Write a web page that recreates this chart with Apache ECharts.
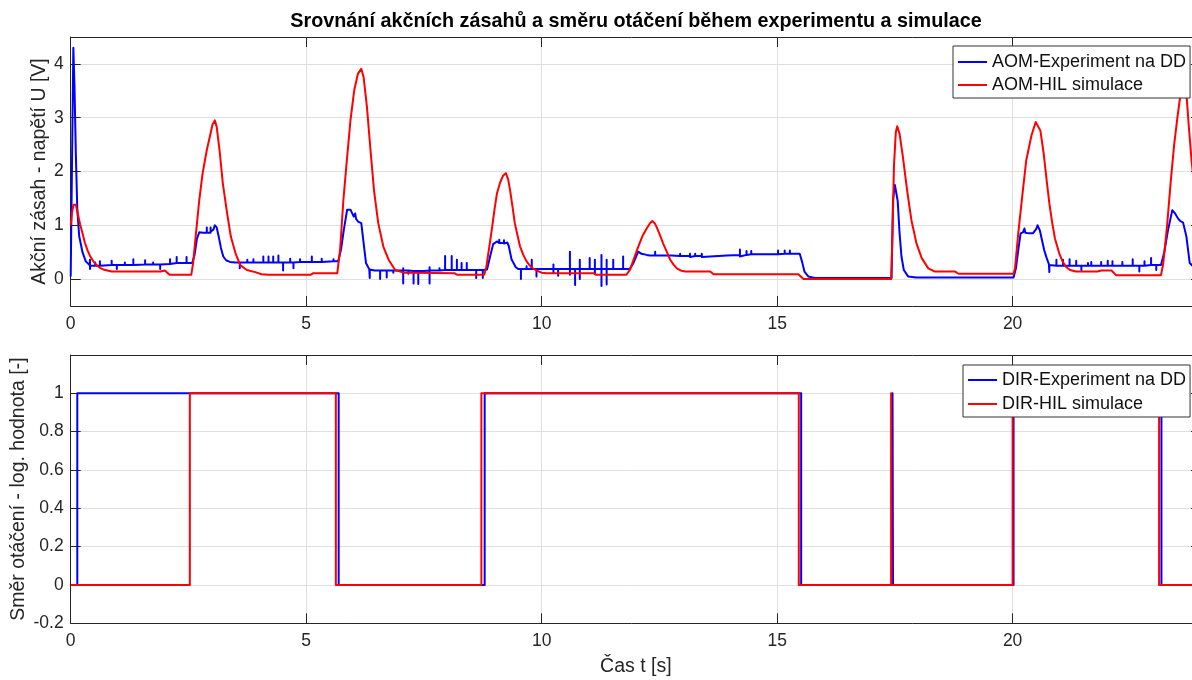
<!DOCTYPE html>
<html>
<head>
<meta charset="utf-8">
<script src="https://cdn.jsdelivr.net/npm/echarts@6/dist/echarts.min.js"></script>
<style>
html,body{margin:0;padding:0;background:#fff;}
#chart{width:1192px;height:680px;}
</style>
</head>
<body>
<div id="chart"></div>
<script>
// ---- data (time [s], value) ----
const titleText = 'Srovnání akčních zásahů a směru otáčení během experimentu a simulace';
const xTicks = [0, 5, 10, 15, 20];
const aomYTicks = [0, 1, 2, 3, 4];
const dirYTicks = [-0.2, 0, 0.2, 0.4, 0.6, 0.8, 1];
const aomNames = ['AOM-Experiment na DD', 'AOM-HIL simulace'];
const dirNames = ['DIR-Experiment na DD', 'DIR-HIL simulace'];

const aomExperiment = [
[0,0.05],[0.056,4.3],[0.08,3.6],[0.11,2.3],[0.14,1.3],[0.18,0.8],[0.25,0.5],[0.32,0.33],[0.4,0.26],
[0.41,0.25],[0.41,0.36],[0.41,0.19],[0.41,0.25],
[0.52,0.25],[0.52,0.31],[0.52,0.25],
[0.62,0.25],[0.62,0.33],[0.62,0.25],
[0.87,0.26],[0.87,0.34],[0.87,0.26],
[0.98,0.26],[0.98,0.19],[0.98,0.26],
[1.15,0.26],[1.15,0.31],[1.15,0.26],
[1.33,0.26],[1.33,0.37],[1.33,0.26],
[1.58,0.27],[1.58,0.35],[1.58,0.27],
[1.75,0.27],[1.75,0.31],[1.75,0.27],
[1.9,0.27],[1.9,0.19],[1.9,0.27],
[2.11,0.28],[2.11,0.37],[2.11,0.28],
[2.25,0.3],[2.25,0.41],[2.25,0.3],
[2.46,0.3],[2.46,0.41],[2.46,0.3],
[2.58,0.3],[2.63,0.45],[2.68,0.75],[2.73,0.87],[2.8,0.86],[2.89,0.86],[2.89,0.96],[2.89,0.86],
[2.97,0.86],[2.97,0.96],[2.97,0.88],[3.03,0.92],[3.06,1.0],[3.1,0.96],[3.14,0.8],[3.19,0.58],
[3.24,0.42],[3.3,0.35],[3.38,0.32],[3.5,0.31],
[3.59,0.31],[3.59,0.2],[3.59,0.31],
[3.75,0.31],[3.75,0.36],[3.75,0.31],
[3.88,0.31],[3.88,0.37],[3.88,0.31],
[4.09,0.31],[4.09,0.42],[4.09,0.31],
[4.2,0.31],[4.2,0.42],[4.2,0.31],
[4.3,0.31],[4.3,0.42],[4.3,0.31],
[4.41,0.31],[4.41,0.44],[4.41,0.31],
[4.51,0.31],[4.51,0.16],[4.51,0.31],
[4.66,0.31],[4.66,0.38],[4.66,0.31],
[4.73,0.31],[4.73,0.2],[4.73,0.31],
[4.87,0.32],[4.87,0.37],[4.87,0.32],
[5.12,0.32],[5.12,0.42],[5.12,0.32],
[5.33,0.32],[5.33,0.38],[5.33,0.32],
[5.58,0.33],[5.58,0.37],[5.58,0.33],
[5.68,0.33],[5.74,0.55],[5.8,0.92],[5.87,1.29],[5.94,1.29],[6.01,1.16],[6.04,1.22],[6.06,1.12],
[6.1,1.07],[6.17,1.04],[6.22,0.67],[6.27,0.3],[6.34,0.18],[6.35,0.02],[6.35,0.18],[6.45,0.16],
[6.57,0.16],[6.57,0.0],[6.57,0.16],
[6.71,0.16],[6.71,0.03],[6.71,0.16],
[6.85,0.16],[6.85,0.12],[6.85,0.16],
[7.06,0.16],[7.06,0.2],[7.06,-0.08],[7.06,0.16],
[7.17,0.16],[7.17,0.1],[7.17,0.16],
[7.28,0.15],[7.28,-0.08],[7.28,0.15],
[7.38,0.15],[7.38,-0.09],[7.38,0.15],
[7.5,0.15],[7.5,0.12],[7.5,0.15],
[7.62,0.16],[7.62,0.22],[7.62,-0.08],[7.62,0.16],
[7.83,0.16],[7.83,0.2],[7.83,0.16],
[7.95,0.17],[7.95,0.43],[7.95,0.17],
[8.09,0.17],[8.09,0.43],[8.09,0.17],
[8.2,0.17],[8.2,0.36],[8.2,0.17],
[8.3,0.17],[8.3,0.3],[8.3,0.17],
[8.41,0.17],[8.41,0.3],[8.41,0.17],
[8.61,0.17],[8.61,0.2],[8.61,0.02],[8.61,0.17],
[8.75,0.17],[8.75,0.02],[8.75,0.17],
[8.84,0.18],[8.9,0.4],[8.97,0.65],[9.05,0.7],[9.1,0.67],[9.1,0.73],[9.1,0.67],[9.2,0.67],[9.2,0.72],
[9.2,0.66],[9.27,0.68],[9.3,0.62],[9.36,0.37],[9.45,0.22],[9.5,0.19],
[9.56,0.19],[9.56,0.0],[9.56,0.19],
[9.68,0.19],[9.68,0.24],[9.68,0.19],
[9.79,0.19],[9.79,0.36],[9.79,0.19],
[9.89,0.19],[9.89,0.05],[9.89,0.19],
[10.25,0.19],[10.25,0.27],[10.25,0.12],[10.25,0.19],
[10.35,0.19],[10.35,0.06],[10.35,0.19],
[10.6,0.19],[10.6,0.51],[10.6,0.08],[10.6,0.19],
[10.71,0.19],[10.71,-0.11],[10.71,0.19],
[10.81,0.19],[10.81,0.36],[10.81,0.0],[10.81,0.19],
[11.02,0.19],[11.02,0.39],[11.02,0.19],
[11.13,0.19],[11.13,0.36],[11.13,0.1],[11.13,0.19],
[11.27,0.19],[11.27,0.45],[11.27,-0.13],[11.27,0.19],
[11.38,0.19],[11.38,0.36],[11.38,-0.1],[11.38,0.19],
[11.52,0.19],[11.52,0.36],[11.52,0.19],
[11.73,0.19],[11.73,0.42],[11.73,0.19],
[11.87,0.19],[11.95,0.3],[12.05,0.51],[12.12,0.47],[12.23,0.45],[12.3,0.44],
[12.41,0.44],[12.41,0.51],[12.41,0.44],
[12.76,0.44],[12.76,0.47],[12.76,0.41],[12.76,0.44],
[12.94,0.43],[12.94,0.47],[12.94,0.43],
[13.15,0.43],[13.15,0.47],[13.15,0.41],[13.15,0.43],
[13.26,0.43],[13.26,0.47],[13.26,0.43],
[13.4,0.43],[13.4,0.47],[13.4,0.41],[13.4,0.43],
[13.93,0.44],[13.93,0.47],[13.93,0.44],
[14.21,0.45],[14.21,0.55],[14.21,0.42],[14.21,0.45],
[14.35,0.45],[14.35,0.52],[14.35,0.45],
[14.45,0.46],[14.45,0.52],[14.45,0.46],
[14.84,0.46],[14.84,0.49],[14.84,0.46],
[15.02,0.46],[15.02,0.53],[15.02,0.46],
[15.16,0.47],[15.16,0.53],[15.16,0.47],
[15.27,0.47],[15.27,0.53],[15.27,0.47],
[15.48,0.47],[15.53,0.32],[15.58,0.14],[15.66,0.05],[15.8,0.02],[17.43,0.02],[17.46,1.47],
[17.5,1.75],[17.53,1.6],[17.56,1.45],[17.6,0.85],[17.64,0.42],[17.69,0.17],[17.78,0.05],[17.95,0.03],
[20.02,0.03],[20.07,0.2],[20.12,0.54],[20.17,0.85],[20.22,0.87],[20.25,0.94],[20.27,0.86],[20.35,0.85],
[20.43,0.85],[20.5,0.93],[20.53,1.0],[20.58,0.9],[20.63,0.7],[20.67,0.54],[20.72,0.4],[20.77,0.28],
[20.78,0.26],[20.78,0.13],[20.78,0.26],
[20.93,0.25],[20.93,0.36],[20.93,0.25],
[21.07,0.25],[21.07,0.36],[21.07,0.25],
[21.21,0.25],[21.21,0.37],[21.21,0.25],
[21.35,0.25],[21.35,0.34],[21.35,0.25],
[21.46,0.25],[21.46,0.17],[21.46,0.25],
[21.6,0.25],[21.6,0.3],[21.6,0.25],
[21.67,0.25],[21.67,0.32],[21.67,0.25],
[21.88,0.25],[21.88,0.32],[21.88,0.25],
[22.02,0.25],[22.02,0.34],[22.02,0.25],
[22.12,0.25],[22.12,0.33],[22.12,0.25],
[22.33,0.25],[22.33,0.32],[22.33,0.25],
[22.55,0.25],[22.55,0.37],[22.55,0.25],
[22.69,0.25],[22.69,0.14],[22.69,0.25],
[22.8,0.25],[22.8,0.33],[22.8,0.25],
[22.94,0.26],[22.94,0.39],[22.94,0.26],
[23.05,0.26],[23.05,0.17],[23.05,0.26],
[23.15,0.26],[23.22,0.5],[23.3,0.91],[23.39,1.28],[23.45,1.22],[23.51,1.13],[23.56,1.08],[23.62,1.05],
[23.69,0.79],[23.76,0.3],[23.85,0.22],[24,0.2]
];

const aomHil = [
[0,1.0],[0.03,1.25],[0.06,1.38],[0.08,1.41],[0.11,1.38],[0.15,1.22],[0.2,1.02],[0.25,0.85],[0.3,0.68],
[0.36,0.53],[0.41,0.43],[0.48,0.33],[0.55,0.26],[0.62,0.21],[0.69,0.18],[0.78,0.16],[0.87,0.14],
[1.9,0.14],[1.93,0.16],[2.0,0.16],[2.05,0.12],[2.1,0.08],[2.56,0.08],[2.6,0.3],[2.66,0.85],[2.73,1.47],
[2.8,1.96],[2.89,2.4],[2.96,2.67],[3.01,2.87],[3.06,2.95],[3.1,2.83],[3.16,2.4],[3.23,1.78],[3.32,1.23],
[3.4,0.79],[3.5,0.48],[3.6,0.26],[3.74,0.17],[3.92,0.13],[4.05,0.09],[4.2,0.08],[5.1,0.08],[5.15,0.11],
[5.66,0.11],[5.72,0.54],[5.79,1.47],[5.87,2.27],[5.94,2.95],[6.02,3.51],[6.1,3.82],[6.17,3.91],[6.22,3.75],
[6.29,3.2],[6.36,2.46],[6.44,1.65],[6.53,1.04],[6.64,0.6],[6.75,0.36],[6.89,0.17],[7.07,0.12],[7.3,0.12],
[8.15,0.11],[8.2,0.08],[8.78,0.08],[8.82,0.2],[8.88,0.55],[8.94,0.91],[9.0,1.3],[9.05,1.59],[9.12,1.8],
[9.18,1.92],[9.24,1.97],[9.29,1.85],[9.33,1.65],[9.38,1.35],[9.43,1.04],[9.49,0.8],[9.54,0.61],[9.61,0.45],
[9.68,0.33],[9.78,0.22],[9.89,0.16],[10.0,0.12],[10.1,0.11],[11.1,0.11],[11.15,0.08],[11.8,0.08],
[11.88,0.18],[11.96,0.38],[12.05,0.6],[12.14,0.8],[12.23,0.94],[12.3,1.04],[12.35,1.08],[12.4,1.04],
[12.44,0.97],[12.51,0.82],[12.58,0.66],[12.66,0.5],[12.73,0.36],[12.8,0.27],[12.87,0.2],[12.95,0.16],
[13.05,0.14],[13.58,0.14],[13.65,0.09],[15.45,0.09],[15.56,0.0],[17.42,0.0],[17.45,0.85],[17.48,2.09],
[17.52,2.73],[17.55,2.84],[17.6,2.7],[17.67,2.27],[17.76,1.65],[17.85,1.1],[17.96,0.66],[18.07,0.39],
[18.21,0.2],[18.35,0.14],[18.78,0.14],[18.85,0.1],[20.02,0.1],[20.05,0.2],[20.12,0.85],[20.21,1.59],
[20.29,2.21],[20.4,2.67],[20.49,2.92],[20.52,2.94],[20.59,2.76],[20.66,2.33],[20.73,1.78],[20.78,1.41],
[20.84,1.05],[20.9,0.75],[20.99,0.48],[21.06,0.33],[21.13,0.23],[21.22,0.17],[21.34,0.14],[21.8,0.14],
[21.88,0.16],[22.1,0.16],[22.2,0.07],[23.15,0.07],[23.2,0.3],[23.28,1.0],[23.36,1.84],[23.43,2.5],
[23.5,3.01],[23.56,3.4],[23.6,3.6],[23.65,3.72],[23.69,3.45],[23.74,2.85],[23.8,2.2],[23.88,1.55],[24,0.9]
];

const dirExperiment = [
[0,0],[0.14,0],[0.14,1],[5.69,1],[5.69,0],[8.79,0],[8.79,1],[15.51,1],[15.51,0],
[17.45,0],[17.45,1],[17.46,0],[20.02,0],[20.02,1],[23.16,1],[23.16,0],[24,0]
];
const dirHil = [
[0,0],[2.53,0],[2.53,1],[5.63,1],[5.63,0],[8.72,0],[8.72,1],[15.46,1],[15.46,0],
[17.42,0],[17.42,1],[17.43,0],[20.0,0],[20.0,1],[23.11,1],[23.11,0],[24,0]
];

// ---- chart ----
const FONT = '"Liberation Sans", Arial, Helvetica, sans-serif';
const AX = '#262626';
const GRIDC = '#dfdfdf';
const BLUE = '#0000ff';
const RED = '#ff0000';

function xAx(gridIndex, pos, withLabels, name) {
  return {
    type: 'value', gridIndex, position: pos, min: 0, max: 24,
    name: name || '', nameLocation: 'middle', nameGap: 33, nameMoveOverlap: false,
    nameTextStyle: {fontFamily: FONT, fontSize: 19.5, color: AX},
    axisLine: {show: true, onZero: false, lineStyle: {color: AX, width: 1}},
    axisTick: {show: true, inside: true, length: 10, customValues: xTicks, lineStyle: {color: AX}},
    axisLabel: {show: withLabels, customValues: xTicks, margin: 9, fontFamily: FONT, fontSize: 17.5, color: AX},
    splitLine: {show: withLabels, lineStyle: {color: GRIDC, width: 1}}
  };
}
function yAx(gridIndex, pos, min, max, ticks, withLabels, name, gap) {
  return {
    type: 'value', gridIndex, position: pos, min, max,
    name: name || '', nameLocation: 'middle', nameGap: gap || 20, nameMoveOverlap: false,
    nameTextStyle: {fontFamily: FONT, fontSize: 19.5, color: AX},
    axisLine: {show: true, onZero: false, lineStyle: {color: AX, width: 1}},
    axisTick: {show: true, inside: true, length: 10, customValues: ticks, lineStyle: {color: AX}},
    axisLabel: {show: withLabels, customValues: ticks, margin: 7, fontFamily: FONT, fontSize: 17.5, color: AX},
    splitLine: {show: withLabels, lineStyle: {color: GRIDC, width: 1}}
  };
}
function lineSeries(name, data, color, xi, yi) {
  return {
    type: 'line', name, data, xAxisIndex: xi, yAxisIndex: yi,
    showSymbol: false, symbol: 'none', color, smooth: false,
    lineStyle: {color, width: 2, join: 'round'}, animation: false, z: 3
  };
}
function legend(names, left, top, padding, gap) {
  return {
    data: names, orient: 'vertical', left, top, padding, itemGap: gap,
    icon: 'rect', itemWidth: 29, itemHeight: 2,
    backgroundColor: '#fff', borderColor: '#333', borderWidth: 1,
    textStyle: {fontFamily: FONT, fontSize: 18, color: '#111', lineHeight: 20},
    selectedMode: false
  };
}

const chart = echarts.init(document.getElementById('chart'), null, {renderer: 'canvas'});
chart.setOption({
  animation: false,
  backgroundColor: '#fff',
  graphic: [{
    type: 'text', x: 636, y: 21.5,
    style: {text: titleText, textAlign: 'center', textVerticalAlign: 'middle',
      font: 'bold 19.8px ' + FONT, fill: '#000'}
  }],
  grid: [
    {left: 70.7, top: 37, width: 1130.3, height: 269, outerBoundsMode: 'none', containLabel: false},
    {left: 70.7, top: 355, width: 1130.3, height: 268.3, outerBoundsMode: 'none', containLabel: false}
  ],
  xAxis: [
    xAx(0, 'bottom', true),
    xAx(0, 'top', false),
    xAx(1, 'bottom', true, 'Čas t [s]'),
    xAx(1, 'top', false)
  ],
  yAxis: [
    yAx(0, 'left', -0.5, 4.5, aomYTicks, true, 'Akční zásah - napětí U [V]', 21),
    yAx(0, 'right', -0.5, 4.5, aomYTicks, false),
    yAx(1, 'left', -0.2, 1.2, dirYTicks, true, 'Směr otáčení - log. hodnota [-]', 42),
    yAx(1, 'right', -0.2, 1.2, dirYTicks, false)
  ],
  legend: [
    legend(aomNames, 953, 46, [6, 4, 3, 5], 3),
    legend(dirNames, 963, 365, [5, 4, 3, 5], 4)
  ],
  series: [
    lineSeries(aomNames[0], aomExperiment, BLUE, 0, 0),
    lineSeries(aomNames[1], aomHil, RED, 0, 0),
    lineSeries(dirNames[0], dirExperiment, BLUE, 2, 2),
    lineSeries(dirNames[1], dirHil, RED, 2, 2)
  ]
});
</script>
</body>
</html>
